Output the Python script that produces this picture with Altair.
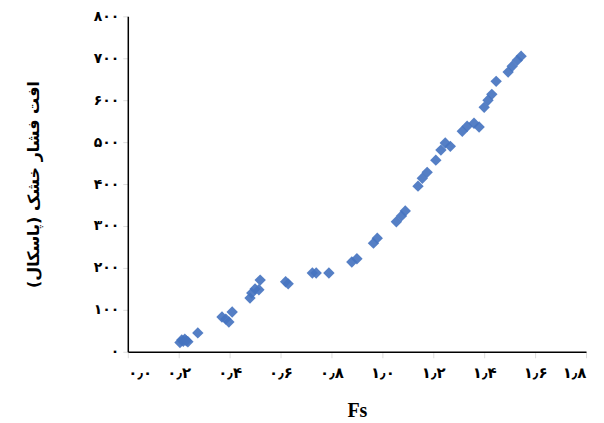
import altair as alt
import pandas as pd

fs = [0.205, 0.212, 0.218, 0.224, 0.23, 0.236, 0.275,
      0.37, 0.385, 0.397, 0.41,
      0.48, 0.487, 0.50, 0.515, 0.52,
      0.62, 0.63,
      0.725, 0.74, 0.79,
      0.88, 0.90,
      0.965, 0.98,
      1.055, 1.075, 1.09,
      1.14, 1.157, 1.176,
      1.21, 1.23, 1.247, 1.267,
      1.314, 1.333, 1.36, 1.38,
      1.40, 1.415, 1.43, 1.447,
      1.494, 1.51, 1.53, 1.545]
dp = [22, 28, 25, 30, 26, 24, 45,
      83, 78, 71, 95,
      128, 140, 150, 148, 171,
      167, 162,
      188, 188, 188,
      214, 222,
      259, 271,
      310, 324, 336,
      395, 414, 428,
      457, 481, 498, 490,
      526, 538, 545, 536,
      583, 600, 614, 645,
      667, 681, 695, 705]

x_ticks = [0, 0.2, 0.4, 0.6, 0.8, 1.0, 1.2, 1.4, 1.6, 1.8]
x_labels = ["۰٫۰", "۰٫۲", "۰٫۴", "۰٫۶", "۰٫۸", "۱٫۰", "۱٫۲", "۱٫۴", "۱٫۶", "۱٫۸"]
y_ticks = [0, 100, 200, 300, 400, 500, 600, 700, 800]
y_labels = ["۰", "۱۰۰", "۲۰۰", "۳۰۰", "۴۰۰", "۵۰۰", "۶۰۰", "۷۰۰", "۸۰۰"]

df = pd.DataFrame({"Fs": fs, "dp": dp})

x_expr = "[" + ",".join("'%s'" % s for s in x_labels) + "][round(datum.value*5)]"
y_expr = "[" + ",".join("'%s'" % s for s in y_labels) + "][round(datum.value/100)]"

chart = alt.Chart(df).mark_point(
    shape="diamond", filled=True, size=130, color="#4674c0", opacity=0.92
).encode(
    x=alt.X("Fs:Q", scale=alt.Scale(domain=[0, 1.8], nice=False),
            axis=alt.Axis(values=x_ticks, labelExpr=x_expr, title="Fs", grid=False,
                          domainColor="black", domainWidth=1.5,
                          tickColor="#dddddd", tickSize=6,
                          labelFont="DejaVu Sans", labelFontWeight="bold", labelFontSize=15,
                          labelColor="black", labelPadding=8,
                          titleFont="Liberation Serif", titleFontWeight="bold",
                          titleFontSize=20, titleColor="black", titlePadding=20)),
    y=alt.Y("dp:Q", scale=alt.Scale(domain=[0, 800], nice=False),
            axis=alt.Axis(values=y_ticks, labelExpr=y_expr, title="افت فشار خشک (پاسکال)",
                          grid=False, domainColor="black", domainWidth=1.5,
                          tickColor="#dddddd", tickSize=5,
                          labelFont="DejaVu Sans", labelFontWeight="bold", labelFontSize=14,
                          labelColor="black", labelPadding=4,
                          titleFont="DejaVu Sans", titleFontWeight="bold",
                          titleFontSize=16, titleColor="black", titlePadding=52)),
).properties(
    width=459, height=336,
    autosize=alt.AutoSizeParams(type="none"),
    padding={"left": 120, "top": 8, "right": 10, "bottom": 75},
).configure_view(stroke=None)

chart.save("out.html", embed_options={"renderer": "svg", "actions": False})
